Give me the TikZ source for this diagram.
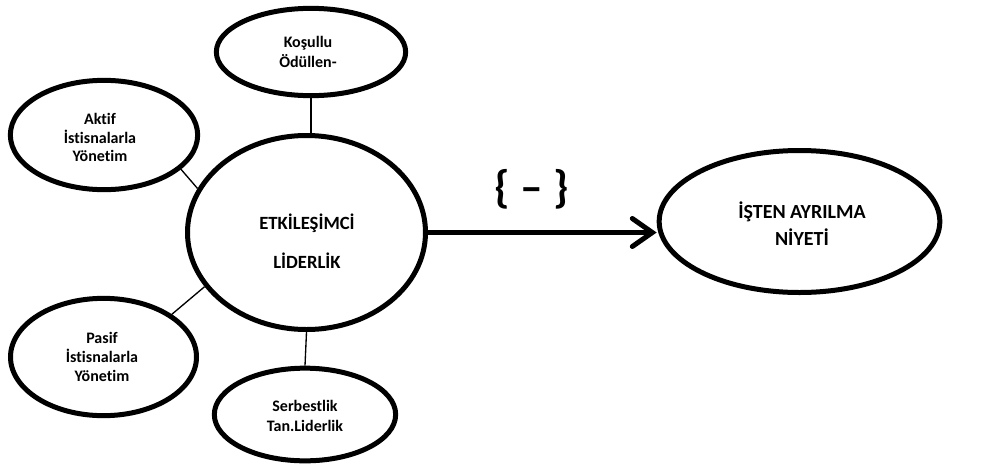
\documentclass[tikz,border=0pt]{standalone}
\usepackage{fontspec}
\setmainfont{Carlito}[Ligatures={TeX,NoCommon}]
\usetikzlibrary{shapes.geometric,arrows.meta}
\tikzset{
  oval/.style={draw, ellipse, line width=3.75pt, inner sep=0pt},
  txt/.style={align=center, font=\bfseries\fontsize{12}{14}\selectfont},
  link/.style={line width=1pt},
  effect/.style={line width=3.75pt, -{Straight Barb[length=15pt,width=21pt,line cap=round]}},
}
\begin{document}
\begin{tikzpicture}[x=0.75pt,y=-0.75pt]
  \useasboundingbox (0,0) rectangle (988,468);
  % ovals
  \node[oval, minimum width=142pt, minimum height=65.5pt] (kosullu) at (311,52) {};
  \node[oval, minimum width=140.5pt, minimum height=82pt] (aktif) at (104,135) {};
  \node[oval, minimum width=178.5pt, minimum height=145.5pt] (etk) at (306.5,232.5) {};
  \node[oval, minimum width=139.5pt, minimum height=88pt] (pasif) at (103.5,357) {};
  \node[oval, minimum width=136pt, minimum height=69.5pt] (serb) at (305,414.5) {};
  \node[oval, minimum width=210.5pt, minimum height=106.5pt] (niyet) at (799.5,221.5) {};

  % texts
  \node[txt, font=\bfseries\fontsize{12}{15}\selectfont] (kosullu-t) at (308,52) {Koşullu\\Ödüllen-};
  \node[txt] (aktif-t) at (100,137.5) {Aktif\\İstisnalarla\\Yönetim};
  \node[txt, font=\bfseries\fontsize{14}{29.25}\selectfont] (etk-t) at (307,241) {ETKİLEŞİMCİ\\LİDERLİK};
  \node[txt] (pasif-t) at (102,357) {Pasif\\İstisnalarla\\Yönetim};
  \node[txt, font=\bfseries\fontsize{12}{15}\selectfont] (serb-t) at (305,416) {Serbestlik\\Tan.Liderlik};
  \node[txt, font=\bfseries\fontsize{15}{20}\selectfont] (niyet-t) at (802,223.5) {İŞTEN AYRILMA\\NİYETİ};

  % links
  \draw[link] (kosullu.south) -- (kosullu.south |- etk.north);
  \draw[link] (aktif.-24) -- (etk.158);
  \draw[link] (pasif.32) -- (etk.208);
  \draw[link] (etk.south) -- (serb.north);

  \draw[effect] (etk.east) -- (etk.east -| niyet.west);
  \node[font=\bfseries\fontsize{34}{34}\selectfont] (sign) at (532,189) {\{ -- \}};
\end{tikzpicture}
\end{document}
